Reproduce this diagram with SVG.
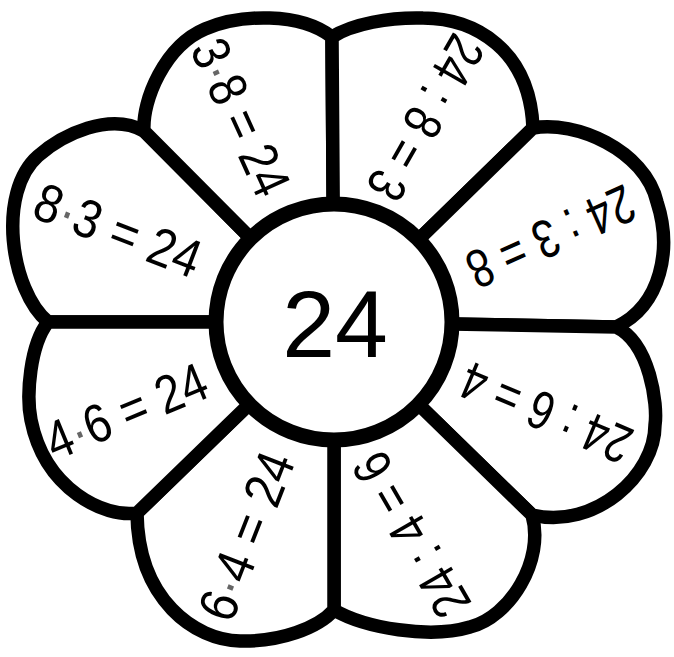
<svg xmlns="http://www.w3.org/2000/svg" width="674" height="657" viewBox="0 0 674 657">
<style>
.petal{fill:#fff;stroke:#000;stroke-width:13.5;stroke-linejoin:round}
.eq{font-family:"Liberation Sans",Arial,sans-serif;font-size:54px;fill:#000;text-anchor:middle}
.dot{fill:#666}
.hub{fill:#fff;stroke:#000;stroke-width:15}
.big{font-family:"Liberation Sans",Arial,sans-serif;font-size:95px;fill:#000;text-anchor:middle}
</style>
<rect width="674" height="657" fill="#fff"/>
<g id="petals">
<g id="petal-a">
<path class="petal" d="M334,322 L48,322 C10,290 -3,192 38,156 C63,134 110,112 144,131 Z"/>
<text class="eq" transform="translate(118,230) rotate(21)" x="0" y="19" textLength="174" lengthAdjust="spacingAndGlyphs">8<tspan class="dot">·</tspan>3 = 24</text>
</g>
<g id="petal-b">
<path class="petal" d="M334,322 L144,131 C142,100 165,46 205,29 C240,14 300,12 332,37 Z"/>
<text class="eq" transform="translate(241,117) rotate(65.6)" x="0" y="19" textLength="166" lengthAdjust="spacingAndGlyphs">3<tspan class="dot">·</tspan>8 = 24</text>
</g>
<g id="petal-c">
<path class="petal" d="M334,322 L332,37 C352,24 390,17 423,18 C475,18 530,50 533,128 Z"/>
<text class="eq" transform="translate(426,118) rotate(119.7)" x="0" y="19" textLength="180" lengthAdjust="spacingAndGlyphs">24 : 8 = 3</text>
</g>
<g id="petal-d">
<path class="petal" d="M334,322 L533,128 C575,120 645,150 657,202 C672,248 662,305 616,327 Z"/>
<text class="eq" transform="translate(551,237) rotate(156)" x="0" y="19" textLength="178" lengthAdjust="spacingAndGlyphs">24 : 3 = 8</text>
</g>
<g id="petal-e">
<path class="petal" d="M334,322 L616,327 C650,343 658,405 655,425 C655,475 595,530 532,515 Z"/>
<text class="eq" transform="translate(546,413) rotate(203)" x="0" y="19" textLength="180" lengthAdjust="spacingAndGlyphs">24 : 6 = 4</text>
</g>
<g id="petal-f">
<path class="petal" d="M334,322 L532,515 C545,560 510,617 470,627 C430,639 365,628 334,610 Z"/>
<text class="eq" transform="translate(411,535) rotate(240)" x="0" y="19" textLength="180" lengthAdjust="spacingAndGlyphs">24 : 4 = 6</text>
</g>
<g id="petal-g">
<path class="petal" d="M334,322 L334,610 C318,628 280,642 240,641 C195,640 138,600 137,513 Z"/>
<text class="eq" transform="translate(246,536) rotate(-68.6)" x="0" y="19" textLength="176" lengthAdjust="spacingAndGlyphs">6<tspan class="dot">·</tspan>4 = 24</text>
</g>
<g id="petal-h">
<path class="petal" d="M334,322 L137,513 C105,518 45,490 31,420 C26,395 30,345 48,322 Z"/>
<text class="eq" transform="translate(126,411) rotate(-22.5)" x="0" y="19" textLength="170" lengthAdjust="spacingAndGlyphs">4<tspan class="dot">·</tspan>6 = 24</text>
</g>
</g>
<g id="center">
<circle class="hub" cx="334" cy="322" r="118"/>
<text class="big" x="335" y="357">24</text>
</g>
</svg>
